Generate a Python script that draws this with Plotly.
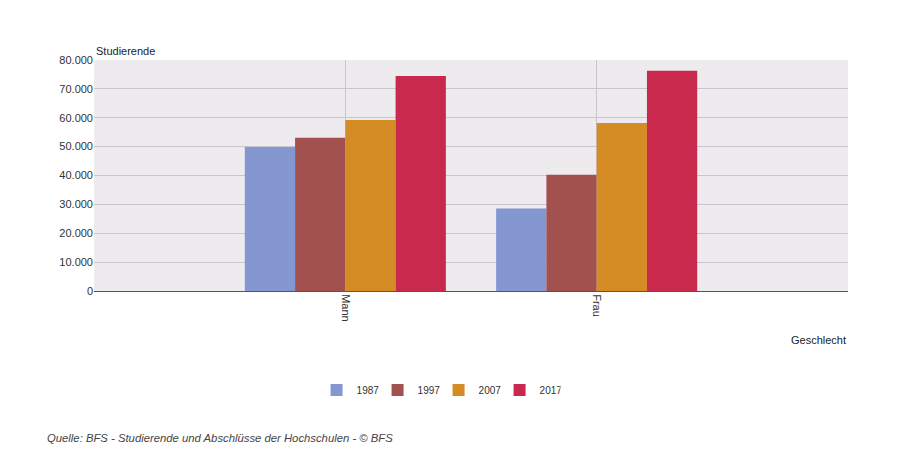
import plotly.graph_objects as go

# data
categories = ["Mann", "Frau"]
years = ["1987", "1997", "2007", "2017"]
values_1987 = [49900, 28600]
values_1997 = [53100, 40300]
values_2007 = [59200, 58200]
values_2017 = [74500, 76300]
series = [values_1987, values_1997, values_2007, values_2017]
colors = ["#8497D1", "#A3514F", "#D68C25", "#C8294D"]

fig = go.Figure()
for year, vals, col in zip(years, series, colors):
    fig.add_trace(go.Bar(x=categories, y=vals, name=year, marker=dict(color=col, line=dict(width=0))))

font = "Liberation Sans, Arial, sans-serif"
# page body has an 8px margin, so the figure is offset by 8px
fig.update_layout(
    width=884, height=442,
    barmode="group", bargap=0.2, bargroupgap=0,
    separators=",.",
    paper_bgcolor="white", plot_bgcolor="#EEEBEF",
    margin=dict(l=86, r=44, t=52, b=159),
    font=dict(family=font, size=11, color="#333333"),
    xaxis=dict(
        range=[-1, 2], tickangle=90, showgrid=True, gridcolor="#C9C5CC", gridwidth=1,
        showline=True, linecolor="#555555", linewidth=1, ticks="", tickfont=dict(size=11, color="#333333"),
    ),
    yaxis=dict(
        range=[0, 80000], dtick=10000, tickformat=",d", showgrid=True, gridcolor="#C9C5CC",
        zeroline=False, ticks="", tickfont=dict(size=11, color="#333333"),
    ),
    legend=dict(orientation="h", x=0.457, xanchor="center", y=-0.429, yanchor="middle",
                font=dict(size=10, color="#333333"), traceorder="normal",
                entrywidth=16, entrywidthmode="pixels"),
    showlegend=True,
    annotations=[
        dict(text="Studierende", xref="paper", yref="paper", x=0, y=1.039, xanchor="left", yanchor="middle",
             showarrow=False, font=dict(size=11, color="#222222")),
        dict(text="Geschlecht", xref="paper", yref="paper", x=1, y=-0.212, xanchor="right", yanchor="middle",
             showarrow=False, font=dict(size=11, color="#222222")),
        dict(text="<i>Quelle: BFS - Studierende und Abschlüsse der Hochschulen - © BFS</i>",
             xref="paper", yref="paper", x=-0.065, y=-0.636, xanchor="left", yanchor="middle",
             showarrow=False, font=dict(size=11.3, color="#444444")),
    ],
)

fig.write_html("out.html")
